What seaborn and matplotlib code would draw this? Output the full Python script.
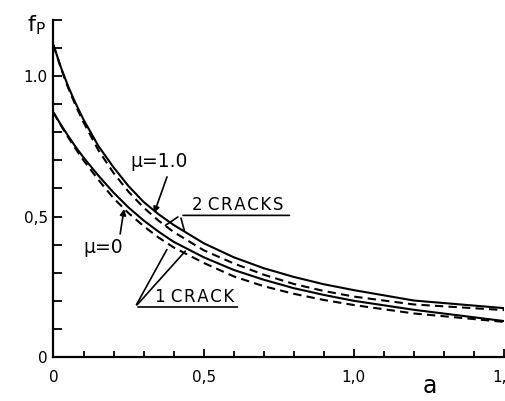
import numpy as np
import pandas as pd
import matplotlib
matplotlib.use("Agg")
import matplotlib.pyplot as plt
from matplotlib.ticker import FixedLocator, FixedFormatter, MultipleLocator
import seaborn as sns

# ---- data ----
a_vals = [0.0, 0.025, 0.05, 0.075, 0.1, 0.15, 0.2, 0.25, 0.3, 0.35, 0.4, 0.5, 0.6, 0.7, 0.8, 0.9, 1.0, 1.2, 1.5]
f_2cracks_mu1 = [1.11, 1.03, 0.96, 0.90, 0.845, 0.75, 0.675, 0.608, 0.552, 0.508, 0.47, 0.405, 0.355, 0.316, 0.285, 0.259, 0.238, 0.201, 0.174]
f_1crack_mu1 = [1.11, 1.027, 0.955, 0.892, 0.835, 0.735, 0.655, 0.588, 0.532, 0.485, 0.445, 0.38, 0.333, 0.293, 0.26, 0.235, 0.215, 0.187, 0.167]
f_2cracks_mu0 = [0.87, 0.826, 0.785, 0.746, 0.71, 0.645, 0.585, 0.532, 0.486, 0.446, 0.41, 0.355, 0.31, 0.275, 0.245, 0.221, 0.200, 0.168, 0.128]
f_1crack_mu0 = [0.87, 0.824, 0.78, 0.739, 0.70, 0.63, 0.565, 0.512, 0.466, 0.425, 0.39, 0.335, 0.287, 0.252, 0.225, 0.203, 0.185, 0.155, 0.125]

curve_names = ["2 cracks, mu=1.0", "1 crack, mu=1.0", "2 cracks, mu=0", "1 crack, mu=0"]
curve_values = [f_2cracks_mu1, f_1crack_mu1, f_2cracks_mu0, f_1crack_mu0]

x_major = [0.0, 0.5, 1.0, 1.5]
x_major_labels = ["0", "0,5", "1,0", "1,5"]
y_major = [0.0, 0.5, 1.0]
y_major_labels = ["0", "0,5", "1.0"]

rows = []
for name, vals in zip(curve_names, curve_values):
    for a, f in zip(a_vals, vals):
        rows.append({"a": a, "f": f, "curve": name})
df = pd.DataFrame(rows)

sns.set_style("ticks")
plt.rcParams["font.family"] = ["DejaVu Sans"]
plt.rcParams["text.color"] = "black"
plt.rcParams["xtick.color"] = "black"
plt.rcParams["ytick.color"] = "black"
plt.rcParams["xtick.labelcolor"] = "black"
plt.rcParams["ytick.labelcolor"] = "black"

fig = plt.figure(figsize=(5.06, 4.01), dpi=100)
ax = fig.add_axes([0.1057, 0.1097, 0.8903, 0.8409])

dash = (4, 2.5)
dashes = {curve_names[0]: "", curve_names[1]: dash, curve_names[2]: "", curve_names[3]: dash}
sns.lineplot(data=df, x="a", y="f", style="curve", dashes=dashes, color="black",
             linewidth=1.5, estimator=None, sort=False, legend=False, ax=ax)

ax.set_xlim(0, 1.5)
ax.set_ylim(0, 1.2)
ax.set_xlabel("")
ax.set_ylabel("")
for side in ["top", "right"]:
    ax.spines[side].set_visible(False)
for side in ["left", "bottom"]:
    ax.spines[side].set_linewidth(1.6)
    ax.spines[side].set_color("black")

ax.xaxis.set_major_locator(FixedLocator(x_major))
ax.xaxis.set_major_formatter(FixedFormatter(x_major_labels))
ax.xaxis.set_minor_locator(MultipleLocator(0.1))
ax.yaxis.set_major_locator(FixedLocator(y_major))
ax.yaxis.set_major_formatter(FixedFormatter(y_major_labels))
ax.yaxis.set_minor_locator(MultipleLocator(0.1))

ax.tick_params(axis="x", which="major", direction="in", length=5.5, width=1.3, pad=9, labelsize=11)
ax.tick_params(axis="x", which="minor", direction="in", length=4, width=1.3)
ax.tick_params(axis="y", which="major", direction="in", length=6.5, width=1.3, pad=4, labelsize=11)
ax.tick_params(axis="y", which="minor", direction="in", length=6.5, width=1.3)

# axis titles
fig.text(27 / 506, 1 - 25 / 401, r"$\mathregular{f_P}$", fontsize=16, ha="left", va="center")
fig.text(430 / 506, 1 - 386 / 401, "a", fontsize=17, ha="center", va="center")

arrow = dict(arrowstyle="-|>", color="black", lw=1.2, mutation_scale=9, shrinkA=0, shrinkB=0)
# mu = 1.0
ax.annotate("", xy=(0.335, 0.512), xytext=(0.378, 0.641), arrowprops=arrow)
ax.text(0.255, 0.676, "μ=1.0", fontsize=13.5, ha="left", va="baseline")
# mu = 0
ax.annotate("", xy=(0.235, 0.527), xytext=(0.222, 0.438), arrowprops=arrow)
ax.text(0.098, 0.37, "μ=0", fontsize=13.5, ha="left", va="baseline")

line_kw = dict(color="black", lw=1.2)
hs = "\u200a"
# 2 CRACKS label
ax.annotate("", xy=(0.365, 0.463), xytext=(0.422, 0.504), arrowprops=dict(arrowstyle="-", **line_kw))
ax.annotate("", xy=(0.438, 0.441), xytext=(0.422, 0.504), arrowprops=dict(arrowstyle="-", **line_kw))
ax.annotate("", xy=(0.795, 0.504), xytext=(0.422, 0.504), arrowprops=dict(arrowstyle="-", **line_kw))
ax.text(0.462, 0.523, "2 " + hs.join("CRACKS"), fontsize=12, ha="left", va="baseline")
# 1 CRACK label
ax.annotate("", xy=(0.382, 0.391), xytext=(0.272, 0.178), arrowprops=dict(arrowstyle="-", **line_kw))
ax.annotate("", xy=(0.445, 0.384), xytext=(0.272, 0.178), arrowprops=dict(arrowstyle="-", **line_kw))
ax.annotate("", xy=(0.622, 0.178), xytext=(0.272, 0.178), arrowprops=dict(arrowstyle="-", **line_kw))
ax.text(0.338, 0.196, "1 " + hs.join("CRACK"), fontsize=12, ha="left", va="baseline")

fig.savefig("out.png", dpi=100)
